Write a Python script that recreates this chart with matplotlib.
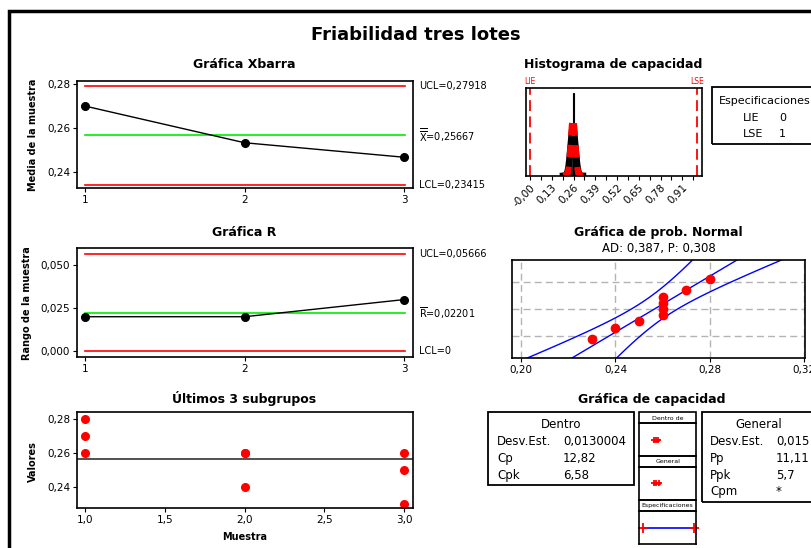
import numpy as np
import matplotlib
matplotlib.use("Agg")
import matplotlib.pyplot as plt
from matplotlib.patches import Rectangle
import matplotlib.transforms as mtransforms
from statistics import NormalDist

# ---- data ----
subgroups = [1, 2, 3]
xbar = [0.270, 0.2533, 0.2467]
ranges = [0.020, 0.020, 0.030]
xbar_ucl, xbar_cl, xbar_lcl = 0.27918, 0.25667, 0.23415
r_ucl, r_cl, r_lcl = 0.05666, 0.02201, 0.0

obs_sample = [1, 1, 1, 2, 2, 2, 3, 3, 3]
obs_value = [0.28, 0.27, 0.26, 0.26, 0.26, 0.24, 0.26, 0.25, 0.23]

hist_bins = [0.23, 0.24, 0.25, 0.26, 0.27, 0.28]
hist_counts = [1, 1, 1, 4, 1, 1]
bin_width = 0.01
lie, lse = 0.0, 1.0
sigma_within = 0.0130004
sigma_overall = 0.015
n_obs = 9

hist_ticks = [0.0, 0.13, 0.26, 0.39, 0.52, 0.65, 0.78, 0.91]
hist_ticklabels = ["-0,00", "0,13", "0,26", "0,39", "0,52", "0,65", "0,78", "0,91"]
prob_ticks = [0.20, 0.24, 0.28, 0.32]
prob_ticklabels = ["0,20", "0,24", "0,28", "0,32"]

within_labels = ["Desv.Est.", "Cp", "Cpk"]
within_values = ["0,0130004", "12,82", "6,58"]
overall_labels = ["Desv.Est.", "Pp", "Ppk", "Cpm"]
overall_values = ["0,015", "11,11", "5,7", "*"]

plt.rcParams["font.family"] = "DejaVu Sans"
W, H = 812, 548
fig = plt.figure(figsize=(W / 100, H / 100), dpi=100)


def px_axes(x0, y0, x1, y1):
    return fig.add_axes([x0 / W, 1 - y1 / H, (x1 - x0) / W, (y1 - y0) / H])


def px_text(x, y, s, **kw):
    kw.setdefault("ha", "center")
    kw.setdefault("va", "center")
    return fig.text(x / W, 1 - y / H, s, **kw)


def px_box(x0, y0, x1, y1, lw=1.3):
    fig.add_artist(Rectangle((x0 / W, 1 - y1 / H), (x1 - x0) / W, (y1 - y0) / H,
                             transform=fig.transFigure, fill=False, lw=lw, ec="black"))


def style(ax):
    for s in ax.spines.values():
        s.set_linewidth(1.2)
    ax.tick_params(direction="out", length=3, width=0.8, labelsize=7.5, pad=2)


# outer frame
px_box(9, 10.5, 840, 580, lw=2.5)
px_text(416, 35, "Friabilidad tres lotes", fontsize=13, fontweight="bold")

# ---- Xbar chart ----
ax1 = px_axes(77, 81, 413, 188)
style(ax1)
ax1.axhline(xbar_ucl, xmin=0.025, xmax=0.975, color="#ff0000", lw=1.2)
ax1.axhline(xbar_lcl, xmin=0.025, xmax=0.975, color="#ff0000", lw=1.2)
ax1.axhline(xbar_cl, xmin=0.025, xmax=0.975, color="#00ee00", lw=1.2)
ax1.plot(subgroups, xbar, color="black", lw=1, marker="o", ms=5.5)
ax1.set_xlim(0.95, 3.056)
ax1.set_ylim(0.2327, 0.2814)
ax1.set_xticks([1, 2, 3])
ax1.set_yticks([0.24, 0.26, 0.28])
ax1.set_yticklabels(["0,24", "0,26", "0,28"])
tr1 = mtransforms.blended_transform_factory(ax1.transAxes, ax1.transData)
ax1.text(1.018, xbar_ucl, "UCL=0,27918", transform=tr1, fontsize=7, va="center")
ax1.text(1.018, xbar_cl, r"$\overline{\overline{\mathrm{X}}}$=0,25667", transform=tr1, fontsize=7, va="center")
ax1.text(1.018, xbar_lcl, "LCL=0,23415", transform=tr1, fontsize=7, va="center")
px_text(244, 65, "Gráfica Xbarra", fontsize=9, fontweight="bold")
px_text(33, 135, "Media de la muestra", fontsize=7, fontweight="bold", rotation=90)

# ---- R chart ----
ax2 = px_axes(77, 248.3, 413, 356.7)
style(ax2)
ax2.axhline(r_ucl, xmin=0.025, xmax=0.975, color="#ff0000", lw=1.2)
ax2.axhline(r_lcl, xmin=0.025, xmax=0.975, color="#ff0000", lw=1.2)
ax2.axhline(r_cl, xmin=0.025, xmax=0.975, color="#00ee00", lw=1.2)
ax2.plot(subgroups, ranges, color="black", lw=1, marker="o", ms=5.5)
ax2.set_xlim(0.95, 3.056)
ax2.set_ylim(-0.0033, 0.0599)
ax2.set_xticks([1, 2, 3])
ax2.set_yticks([0.0, 0.025, 0.05])
ax2.set_yticklabels(["0,000", "0,025", "0,050"])
tr2 = mtransforms.blended_transform_factory(ax2.transAxes, ax2.transData)
ax2.text(1.018, r_ucl, "UCL=0,05666", transform=tr2, fontsize=7, va="center")
ax2.text(1.018, r_cl, r"$\overline{\mathrm{R}}$=0,02201", transform=tr2, fontsize=7, va="center")
ax2.text(1.018, r_lcl, "LCL=0", transform=tr2, fontsize=7, va="center")
px_text(244, 232.7, "Gráfica R", fontsize=9, fontweight="bold")
px_text(27, 303, "Rango de la muestra", fontsize=7, fontweight="bold", rotation=90)

# ---- last subgroups ----
ax3 = px_axes(77, 411.7, 413, 508.3)
style(ax3)
ax3.axhline(xbar_cl, color="#333333", lw=1.2)
ax3.plot(obs_sample, obs_value, "o", color="#ff0000", ms=5.5, mec="#ff0000")
ax3.set_xlim(0.95, 3.056)
ax3.set_ylim(0.2276, 0.2845)
ax3.set_xticks([1, 1.5, 2, 2.5, 3])
ax3.set_xticklabels(["1,0", "1,5", "2,0", "2,5", "3,0"])
ax3.set_yticks([0.24, 0.26, 0.28])
ax3.set_yticklabels(["0,24", "0,26", "0,28"])
px_text(244, 399, "Últimos 3 subgrupos", fontsize=9, fontweight="bold")
px_text(33, 462, "Valores", fontsize=7, fontweight="bold", rotation=90)
px_text(245, 537, "Muestra", fontsize=7, fontweight="bold")

# ---- capability histogram ----
mu = float(np.mean(obs_value))
ax4 = px_axes(525.7, 87.7, 701.7, 175.7)
style(ax4)
ax4.bar(hist_bins, hist_counts, width=bin_width, color="#303030", ec="black", lw=0.8)
xs = np.linspace(mu - 4 * sigma_overall, mu + 4 * sigma_overall, 200)
scale = n_obs * bin_width
pdf_o = scale * np.exp(-0.5 * ((xs - mu) / sigma_overall) ** 2) / (sigma_overall * np.sqrt(2 * np.pi))
pdf_w = scale * np.exp(-0.5 * ((xs - mu) / sigma_within) ** 2) / (sigma_within * np.sqrt(2 * np.pi))
ax4.plot(xs, pdf_o, color="black", lw=4.5)
ax4.plot(xs, pdf_w, color="#ff0000", lw=4.5, dashes=(2, 1.5))
for v in (lie, lse):
    ax4.axvline(v, color="#ff0000", lw=1.3, dashes=(6, 3))
ax4.set_xlim(-0.026, 1.026)
ax4.set_ylim(0, 4.26)
ax4.set_yticks([])
ax4.set_xticks(hist_ticks)
ax4.set_xticks([t + 0.065 for t in hist_ticks], minor=True)
ax4.tick_params(which="minor", direction="out", length=3, width=0.8)
ax4.set_xticklabels(hist_ticklabels, rotation=45, ha="right", rotation_mode="anchor", fontsize=7.5)
tr4 = mtransforms.blended_transform_factory(ax4.transData, ax4.transAxes)
ax4.text(lie, 1.02, "LIE", transform=tr4, color="#ff0000", fontsize=5.5, ha="center", va="bottom")
ax4.text(lse, 1.02, "LSE", transform=tr4, color="#ff0000", fontsize=5.5, ha="center", va="bottom")
px_text(613, 65, "Histograma de capacidad", fontsize=9, fontweight="bold")

px_box(711.7, 87.3, 840, 144.3)
px_text(719, 100.5, "Especificaciones", fontsize=8, ha="left")
px_text(743, 118, "LIE", fontsize=8, ha="left")
px_text(779, 118, "0", fontsize=8, ha="left")
px_text(743, 134, "LSE", fontsize=8, ha="left")
px_text(779, 134, "1", fontsize=8, ha="left")

# ---- normal probability plot ----
nd = NormalDist()
vals = np.sort(obs_value)
ranks = np.arange(1, n_obs + 1)
zs = np.array([nd.inv_cdf((i - 0.3) / (n_obs + 0.4)) for i in ranks])
zlim = nd.inv_cdf(0.99)
ax5 = px_axes(511.7, 260, 805, 357.7)
style(ax5)
for g in prob_ticks:
    ax5.axvline(g, color="#b4b4b4", lw=1, dashes=(5, 3), zorder=0)
for p in (0.1, 0.5, 0.9):
    ax5.axhline(nd.inv_cdf(p), color="#b4b4b4", lw=1, dashes=(5, 3), zorder=0)
zz = np.linspace(-zlim * 1.05, zlim * 1.05, 100)
center = mu + sigma_overall * zz
half = 1.96 * sigma_overall * np.sqrt((1 + zz ** 2 / 2) / n_obs)
ax5.plot(center, zz, color="#0000ff", lw=1)
ax5.plot(center - half, zz, color="#0000ff", lw=1)
ax5.plot(center + half, zz, color="#0000ff", lw=1)
ax5.plot(vals, zs, "o", color="#ff0000", ms=6, mec="#ff0000", zorder=3)
ax5.set_xlim(0.196, 0.3204)
ax5.set_ylim(-zlim, zlim)
ax5.set_yticks([])
ax5.set_xticks(prob_ticks)
ax5.set_xticklabels(prob_ticklabels)
px_text(658, 232.7, "Gráfica de prob. Normal", fontsize=9, fontweight="bold")
px_text(659, 248.3, "AD: 0,387, P: 0,308", fontsize=8.5)

# ---- capability plot ----
px_text(652, 400, "Gráfica de capacidad", fontsize=9, fontweight="bold")

px_box(488.3, 411.7, 634, 485)
px_text(561, 424, "Dentro", fontsize=8.5)
for i, (lab, val) in enumerate(zip(within_labels, within_values)):
    y = 441.7 + i * 16.7
    px_text(497, y, lab, fontsize=8.5, ha="left")
    px_text(563, y, val, fontsize=8.5, ha="left")

px_box(701.7, 411.7, 840, 501.7)
px_text(759, 424, "General", fontsize=8.5)
for i, (lab, val) in enumerate(zip(overall_labels, overall_values)):
    y = 441.7 + i * 16.7
    px_text(710, y, lab, fontsize=8.5, ha="left")
    px_text(776, y, val, fontsize=8.5, ha="left")

sections = [("Dentro de", 411.7, 423.3, 456, sigma_within),
            ("General", 456, 466.7, 500, sigma_overall),
            ("Especificaciones", 500, 511, 544.3, None)]
for name, top, mid, bot, sig in sections:
    px_box(639.3, top, 696, mid, lw=1.2)
    px_text(667.6, (top + mid) / 2 + 0.5, name, fontsize=4.5)
    axc = px_axes(639.3, mid, 696, bot)
    for s in axc.spines.values():
        s.set_linewidth(1.2)
    axc.set_xticks([])
    axc.set_yticks([])
    axc.set_xlim(-0.079, 1.039)
    axc.set_ylim(-1, 1)
    if sig is None:
        axc.plot([lie, lse], [0, 0], color="#0000ff", lw=1.2)
        axc.plot([lie, lse], [0, 0], "+", color="#ff0000", ms=7, mew=1.3, clip_on=False)
    else:
        axc.plot([mu - 3 * sig, mu, mu + 3 * sig], [0, 0, 0], color="#ff0000", lw=2,
                 marker="+", ms=5, mew=1.3)

fig.savefig("out.png", dpi=100)
